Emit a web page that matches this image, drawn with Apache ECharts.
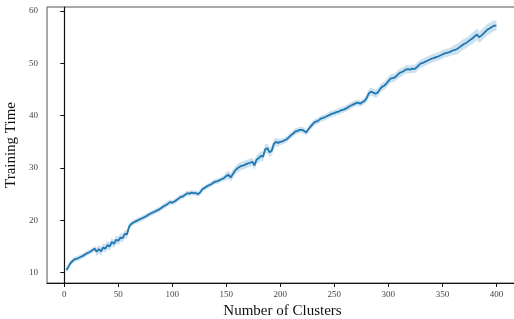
<!DOCTYPE html>
<html>
<head>
<meta charset="utf-8">
<script src="https://cdn.jsdelivr.net/npm/echarts@6/dist/echarts.min.js"></script>
<style>
  html, body { margin: 0; padding: 0; background: #fff; }
  #Chart { width: 514px; height: 319px; }
</style>
</head>
<body>
<div id="Chart"></div>
<script>
// number of clusters, sampled every 2
var clusters = Array.from({ length: 200 }, function (_, i) { return 2 + 2 * i; });

// mean training time
var meanTime = [
    10.5, 11.2, 11.9, 12.3, 12.6, 12.7, 12.9, 13.1, 13.3, 13.6,
    13.8, 14.0, 14.3, 14.6, 14.0, 14.5, 14.1, 14.8, 14.6, 15.3,
    15.0, 15.9, 15.5, 16.3, 16.1, 16.7, 16.6, 17.4, 17.3, 18.8,
    19.3, 19.6, 19.8, 20.0, 20.2, 20.4, 20.6, 20.8, 21.1, 21.3,
    21.5, 21.7, 21.9, 22.1, 22.4, 22.7, 22.9, 23.2, 23.5, 23.4,
    23.6, 23.9, 24.2, 24.5, 24.6, 24.9, 25.2, 25.1, 25.3, 25.2,
    25.2, 25.0, 25.4, 26.0, 26.2, 26.5, 26.7, 26.9, 27.2, 27.4,
    27.5, 27.7, 27.9, 28.1, 28.5, 28.7, 28.2, 28.8, 29.5, 29.9,
    30.2, 30.4, 30.5, 30.7, 30.9, 31.0, 31.2, 30.5, 31.6, 31.9,
    32.3, 32.2, 33.6, 33.8, 33.0, 33.3, 34.6, 35.0, 34.8, 35.0,
    35.1, 35.3, 35.5, 35.9, 36.3, 36.6, 37.0, 37.1, 37.3, 37.3,
    37.1, 36.8, 37.4, 37.9, 38.4, 38.8, 38.9, 39.2, 39.5, 39.6,
    39.8, 40.0, 40.2, 40.4, 40.5, 40.7, 40.8, 41.0, 41.1, 41.3,
    41.5, 41.8, 42.0, 42.2, 42.4, 42.5, 42.3, 42.6, 42.8, 43.4,
    44.3, 44.6, 44.4, 44.2, 44.4, 45.0, 45.5, 45.7, 46.1, 46.6,
    47.1, 47.2, 47.3, 47.7, 48.1, 48.3, 48.5, 48.8, 48.9, 48.8,
    49.0, 48.9, 49.2, 49.6, 50.0, 50.1, 50.3, 50.5, 50.7, 50.9,
    51.0, 51.2, 51.3, 51.5, 51.7, 51.9, 52.0, 52.1, 52.3, 52.5,
    52.6, 52.8, 53.1, 53.4, 53.7, 53.9, 54.2, 54.5, 54.8, 55.2,
    55.5, 55.0, 55.3, 55.7, 56.1, 56.5, 56.7, 57.0, 57.2, 57.2
];

// half width of the confidence band
var spread = [
    0.6, 0.6, 0.5, 0.5, 0.5, 0.5, 0.5, 0.5, 0.5, 0.5,
    0.5, 0.5, 0.5, 0.5, 0.8, 0.8, 0.8, 0.8, 0.8, 0.8,
    0.8, 0.8, 0.8, 0.8, 0.8, 0.8, 0.8, 0.8, 0.8, 0.6,
    0.5, 0.5, 0.5, 0.5, 0.5, 0.5, 0.5, 0.5, 0.5, 0.5,
    0.5, 0.5, 0.5, 0.5, 0.5, 0.5, 0.5, 0.5, 0.5, 0.5,
    0.5, 0.5, 0.5, 0.5, 0.5, 0.5, 0.5, 0.5, 0.5, 0.5,
    0.5, 0.5, 0.5, 0.5, 0.5, 0.5, 0.5, 0.5, 0.5, 0.5,
    0.5, 0.5, 0.5, 0.6, 0.8, 0.8, 0.8, 0.8, 0.8, 0.8,
    0.8, 0.8, 0.8, 0.8, 0.8, 0.8, 0.8, 0.9, 0.9, 0.9,
    0.9, 0.9, 0.9, 0.9, 0.9, 0.9, 0.9, 0.8, 0.8, 0.6,
    0.6, 0.6, 0.6, 0.6, 0.6, 0.6, 0.6, 0.6, 0.6, 0.6,
    0.6, 0.6, 0.6, 0.6, 0.6, 0.6, 0.6, 0.6, 0.6, 0.6,
    0.6, 0.6, 0.6, 0.6, 0.6, 0.6, 0.6, 0.6, 0.6, 0.6,
    0.6, 0.6, 0.6, 0.6, 0.6, 0.6, 0.6, 0.6, 0.6, 0.8,
    0.8, 0.8, 0.8, 0.8, 0.8, 0.8, 0.8, 0.8, 0.8, 0.8,
    0.8, 0.8, 0.8, 0.8, 0.8, 0.8, 0.8, 0.8, 0.8, 0.8,
    0.8, 0.8, 0.8, 0.8, 0.8, 0.8, 0.8, 0.8, 0.8, 0.8,
    0.8, 0.8, 0.8, 0.8, 0.8, 0.8, 0.8, 0.8, 0.8, 0.9,
    1.0, 1.0, 1.0, 1.0, 1.0, 1.0, 1.0, 1.0, 1.1, 1.1,
    1.1, 1.1, 1.1, 1.1, 1.1, 1.1, 1.1, 1.1, 1.0, 1.0
];

var xTicks = [0, 50, 100, 150, 200, 250, 300, 350, 400];
var yTicks = [10, 20, 30, 40, 50, 60];

var mean = clusters.map(function (x, i) { return [x, meanTime[i]]; });
var bandRows = clusters.map(function (x, i) {
    return [x, meanTime[i] - spread[i], meanTime[i] + spread[i]];
});

var Chart = echarts.init(document.getElementById('Chart'));

var tickFont = { fontFamily: 'Liberation Serif', fontSize: 9, color: '#444' };

// one polygon for the whole confidence band
function renderBand(params, api) {
    if (params.dataIndex !== 0) return null;
    var upper = bandRows.map(function (r) { return api.coord([r[0], r[2]]); });
    var lowerPts = bandRows.map(function (r) { return api.coord([r[0], r[1]]); }).reverse();
    return {
        type: 'polygon',
        shape: { points: upper.concat(lowerPts) },
        style: { fill: 'rgba(31,119,180,0.22)', stroke: 'none' },
        silent: true
    };
}

var ChartOption = {
    animation: false,
    grid: {
        left: 47,
        top: 7,
        width: 471,
        height: 276,
        outerBoundsMode: 'none',
        containLabel: false,
        show: true,
        borderColor: '#555',
        borderWidth: 1
    },
    xAxis: {
        type: 'value',
        min: -16,
        max: 420,
        name: 'Number of Clusters',
        nameLocation: 'middle',
        nameGap: 20,
        nameTextStyle: { fontFamily: 'Liberation Serif', fontSize: 15, color: '#111' },
        axisLine: { show: true, lineStyle: { color: '#111', width: 1.2 } },
        axisTick: { show: true, length: 4, customValues: xTicks, lineStyle: { color: '#111' } },
        axisLabel: Object.assign({ margin: 7, customValues: xTicks }, tickFont),
        splitLine: { show: false }
    },
    yAxis: {
        type: 'value',
        min: 8.03,
        max: 60.77,
        name: 'Training Time',
        nameLocation: 'middle',
        nameGap: 24,
        nameTextStyle: { fontFamily: 'Liberation Serif', fontSize: 15, color: '#111' },
        axisLine: { show: true, lineStyle: { color: '#111', width: 1.2 } },
        axisTick: { show: true, length: 4, customValues: yTicks, lineStyle: { color: '#111' } },
        axisLabel: Object.assign({ margin: 9, customValues: yTicks }, tickFont),
        splitLine: { show: false }
    },
    series: [
        {
            type: 'custom',
            data: bandRows,
            renderItem: renderBand,
            clip: true,
            silent: true
        },
        {
            type: 'line',
            data: mean,
            symbol: 'none',
            lineStyle: { color: '#1f77b4', width: 1.8 }
        }
    ]
};

Chart.setOption(ChartOption);
window.addEventListener("resize", function () {
    Chart.resize();
});
</script>
</body>
</html>
